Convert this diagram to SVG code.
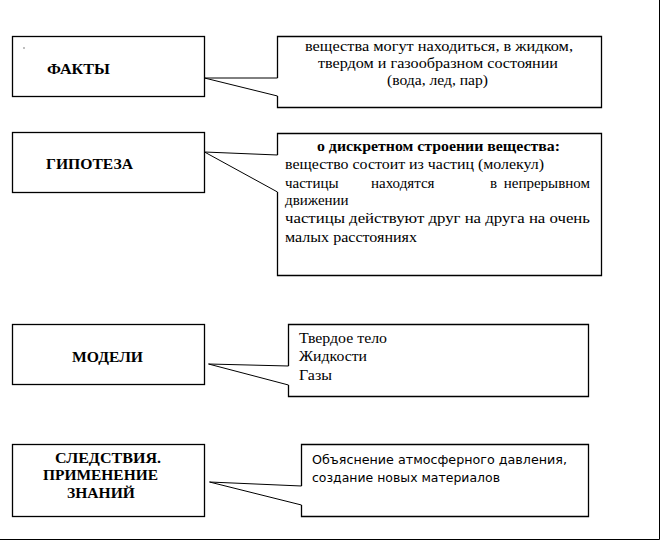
<svg xmlns="http://www.w3.org/2000/svg" width="661" height="541" viewBox="0 0 661 541">
<style>
.box{fill:#fff;stroke:#000;stroke-width:1.3}
.ln{fill:none;stroke:#000;stroke-width:1}
.call{fill:none;stroke:#000;stroke-width:1.3}
.h{font-family:"Liberation Serif","Times New Roman","DejaVu Serif",serif;font-weight:bold;font-size:14px;fill:#000}
.t{font-family:"Liberation Serif","Times New Roman","DejaVu Serif",serif;font-size:15px;fill:#000}
.s{font-family:"DejaVu Sans","Liberation Sans",sans-serif;font-size:12px;fill:#000}
</style>
<rect x="0" y="0" width="661" height="541" fill="#fff"/>
<path class="ln" d="M659.5,0 V539.5 H0"/>

<g id="facts">
<rect class="box" x="12.5" y="36.5" width="192" height="60"/>
<rect x="23.5" y="47.5" width="1" height="1" fill="#000"/>
<text class="h" x="47" y="74" textLength="63" lengthAdjust="spacingAndGlyphs">ФАКТЫ</text>
</g>
<g id="facts-note">
<path class="call" d="M277.5,78 V36.5 H601.5 V107.5 H277.5 V96"/>
<text class="t" x="305" y="51" textLength="268" lengthAdjust="spacingAndGlyphs">вещества могут находиться, в жидком,</text>
<text class="t" x="318" y="68" textLength="240" lengthAdjust="spacingAndGlyphs">твердом и газообразном состоянии</text>
<text class="t" x="387" y="85" textLength="101" lengthAdjust="spacingAndGlyphs">(вода, лед, пар)</text>
</g>

<g id="hypothesis">
<rect class="box" x="12.5" y="132.5" width="192" height="60"/>
<text class="h" x="46" y="169" textLength="87" lengthAdjust="spacingAndGlyphs">ГИПОТЕЗА</text>
</g>
<g id="hypothesis-note">
<path class="call" d="M277.5,155 V133.5 H601.5 V275.5 H277.5 V192"/>
<text class="h" x="317" y="151" textLength="243" lengthAdjust="spacingAndGlyphs">о дискретном строении вещества:</text>
<text class="t" x="285" y="169" textLength="259" lengthAdjust="spacingAndGlyphs">вещество состоит из частиц (молекул)</text>
<text class="t" y="188"><tspan x="285">частицы</tspan><tspan x="371">находятся</tspan><tspan x="490">в</tspan></text>
<text class="t" x="590" y="188" text-anchor="end">непрерывном</text>
<text class="t" x="285" y="205">движении</text>
<text class="t" x="285" y="223" textLength="305" lengthAdjust="spacingAndGlyphs">частицы действуют друг на друга на очень</text>
<text class="t" x="285" y="242" textLength="132" lengthAdjust="spacingAndGlyphs">малых расстояниях</text>
</g>

<g id="models">
<rect class="box" x="12.5" y="324.5" width="192" height="60"/>
<text class="h" x="72" y="362" textLength="71" lengthAdjust="spacingAndGlyphs">МОДЕЛИ</text>
</g>
<g id="models-note">
<path class="call" d="M288.5,366 V324.5 H588.5 V396.5 H288.5 V385"/>
<text class="t" x="299" y="343" textLength="88" lengthAdjust="spacingAndGlyphs">Твердое тело</text>
<text class="t" x="299" y="361" textLength="68" lengthAdjust="spacingAndGlyphs">Жидкости</text>
<text class="t" x="299" y="380" textLength="33" lengthAdjust="spacingAndGlyphs">Газы</text>
</g>

<g id="consequences">
<rect class="box" x="12.5" y="444.5" width="192" height="72"/>
<text class="h" x="55" y="463" textLength="106" lengthAdjust="spacingAndGlyphs">СЛЕДСТВИЯ.</text>
<text class="h" x="43" y="480" textLength="115" lengthAdjust="spacingAndGlyphs">ПРИМЕНЕНИЕ</text>
<text class="h" x="67" y="498" textLength="68" lengthAdjust="spacingAndGlyphs">ЗНАНИЙ</text>
</g>
<g id="consequences-note">
<path class="call" d="M301.5,486 V444.5 H588.5 V516.5 H301.5 V505"/>
<text class="s" x="312" y="464" textLength="255" lengthAdjust="spacingAndGlyphs">Объяснение атмосферного давления,</text>
<text class="s" x="312" y="482" textLength="188" lengthAdjust="spacingAndGlyphs">создание новых материалов</text>
</g>

<g id="connectors">
<path class="ln" d="M277.5,78 L204.5,78 L277.5,96"/>
<path class="ln" d="M277.5,155 L204.5,152 L277.5,192"/>
<path class="ln" d="M288.5,366 L208.5,364 L288.5,385"/>
<path class="ln" d="M301.5,486 L209.5,482 L301.5,505"/>
</g>
</svg>
